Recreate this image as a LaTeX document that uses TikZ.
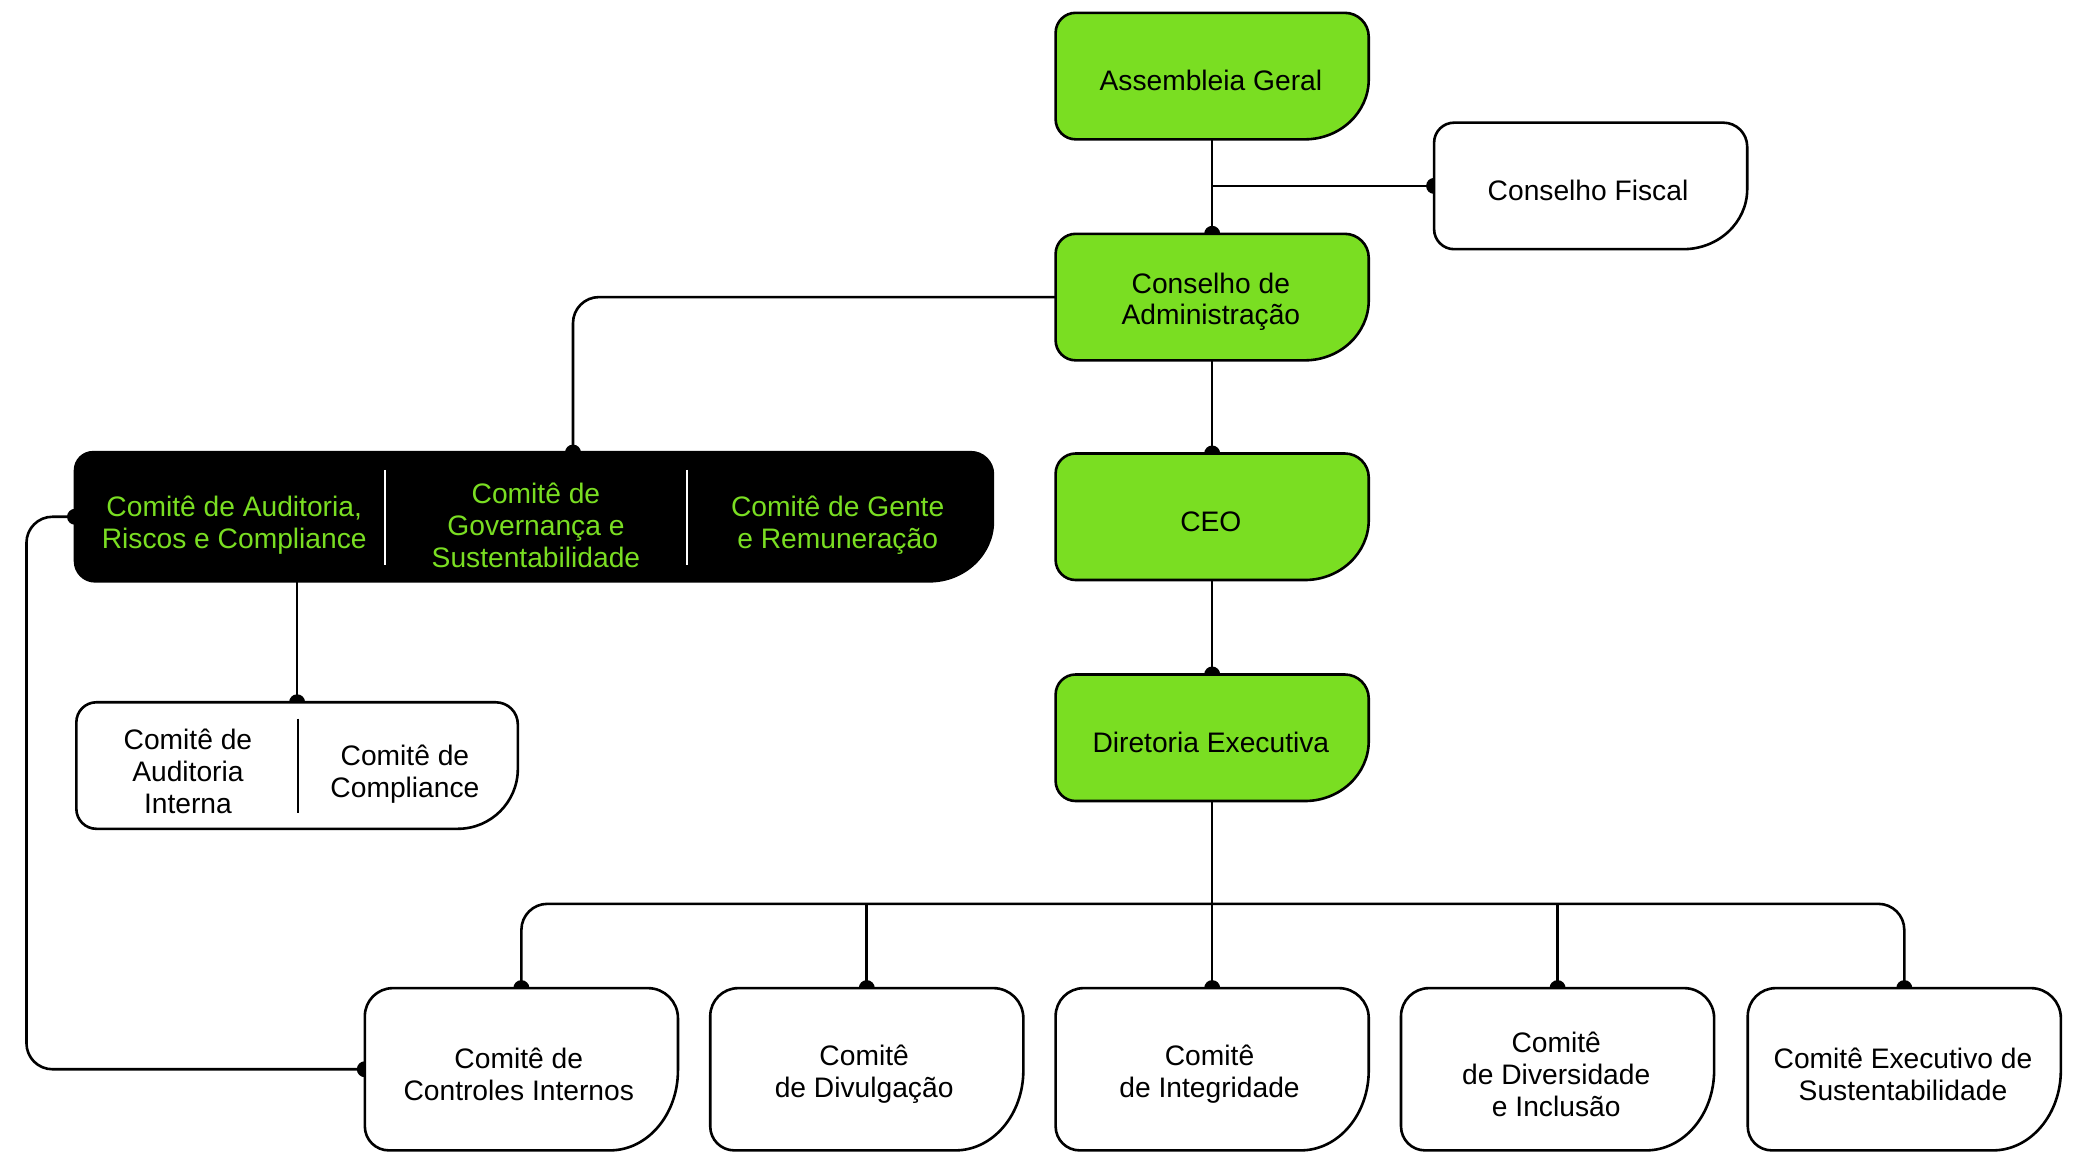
\documentclass[tikz,border=0pt]{standalone}
\usepackage{fontspec}
\setmainfont{Liberation Sans}
\usetikzlibrary{calc}
\pgfdeclarelayer{lines}
\pgfdeclarelayer{shapes}
\pgfsetlayers{lines,shapes,main}
\definecolor{lime}{RGB}{122,222,34}
\def\unitpx{0.6617pt}
\newcommand\boxshape[7]{%
  \path[#2] let \p1=(#1.north west), \p2=(#1.south east) in
  (\x1+#3,\y1) -- (\x2-#4,\y1) arc[start angle=90,end angle=0,radius=#4]
  -- (\x2,\y2+#6) arc[start angle=0,end angle=-90,x radius=#5,y radius=#6]
  -- (\x1+#7,\y2) arc[start angle=270,end angle=180,radius=#7]
  -- (\x1,\y1-#3) arc[start angle=180,end angle=90,radius=#3] -- cycle;}
\tikzset{
  txt/.style={align=center,inner sep=0pt,font=\fontsize{14.1}{15.9}\selectfont},
  unit/.style={inner sep=0pt,minimum width=236*\unitpx,minimum height=95*\unitpx},
  lowbox/.style={inner sep=0pt,minimum width=236*\unitpx,minimum height=122*\unitpx},
  gshape/.style={fill=lime,draw=black,line width=1.3pt},
  wshape/.style={fill=white,draw=black,line width=1.3pt},
  kshape/.style={fill=black,draw=black,line width=1.3pt},
  conn/.style={line width=1.3pt,rounded corners=13pt},
  dot/.style={fill=black},
}
\begin{document}
\begin{tikzpicture}[x=\unitpx,y=-\unitpx]
\useasboundingbox (0,0) rectangle (1568,872);
% box nodes
\node[unit] (ag) at (916,57.5) {};
\node[unit] (cf) at (1202,140.5) {};
\node[unit] (ca) at (916,224.5) {};
\node[unit] (ceo) at (916,390.5) {};
\node[unit] (de) at (916,557.5) {};
\node[inner sep=0pt,minimum width=693*\unitpx,minimum height=97*\unitpx] (bb) at (403.5,390.5) {};
\node[inner sep=0pt,minimum width=333*\unitpx,minimum height=95*\unitpx] (sub) at (224.5,578.5) {};
\node[lowbox] (c1) at (394,808) {};
\node[lowbox] (c2) at (655,808) {};
\node[lowbox] (c3) at (916,808) {};
\node[lowbox] (c4) at (1177,808) {};
\node[lowbox] (c5) at (1439,808) {};
% texts
\node[txt] (agt) at (915,61) {Assembleia Geral};
\node[txt] (cft) at (1200,144) {Conselho Fiscal};
\node[txt] (cat) at (915,228) {Conselho de\\Administração};
\node[txt] (ceot) at (915,394) {CEO};
\node[txt] (det) at (915,561) {Diretoria Executiva};
\node[txt,text=lime] (bb1) at (177,397) {Comitê de Auditoria,\\Riscos e Compliance};
\node[txt,text=lime] (bb2) at (405,397) {Comitê de\\Governança e\\Sustentabilidade};
\node[txt,text=lime] (bb3) at (633,397) {Comitê de Gente\\e Remuneração};
\node[txt] (sub1) at (142,583) {Comitê de\\Auditoria\\Interna};
\node[txt] (sub2) at (306,585) {Comitê de\\Compliance};
\node[txt] (c1t) at (392,812) {Comitê de\\Controles Internos};
\node[txt] (c2t) at (653,812) {Comitê\\de Divulgação};
\node[txt] (c3t) at (914,812) {Comitê\\de Integridade};
\node[txt] (c4t) at (1176,812) {Comitê\\de Diversidade\\e Inclusão};
\node[txt] (c5t) at (1438,812) {Comitê Executivo de\\Sustentabilidade};
\coordinate (bbtop) at (433,342);
\coordinate (lx) at (20,0);
\coordinate (bus) at (0,683);
% shapes
\begin{pgfonlayer}{shapes}
\boxshape{ag}{gshape}{10pt}{12pt}{32pt}{30pt}{10pt}
\boxshape{ca}{gshape}{10pt}{12pt}{32pt}{30pt}{10pt}
\boxshape{ceo}{gshape}{10pt}{12pt}{32pt}{30pt}{10pt}
\boxshape{de}{gshape}{10pt}{12pt}{32pt}{30pt}{10pt}
\boxshape{cf}{wshape}{10pt}{12pt}{32pt}{30pt}{10pt}
\boxshape{bb}{kshape}{9pt}{11pt}{32pt}{30pt}{10pt}
\boxshape{sub}{wshape}{10pt}{11pt}{30pt}{30pt}{10pt}
\boxshape{c1}{wshape}{14pt}{15pt}{34pt}{40pt}{12pt}
\boxshape{c2}{wshape}{14pt}{15pt}{34pt}{40pt}{12pt}
\boxshape{c3}{wshape}{14pt}{15pt}{34pt}{40pt}{12pt}
\boxshape{c4}{wshape}{14pt}{15pt}{34pt}{40pt}{12pt}
\boxshape{c5}{wshape}{14pt}{15pt}{34pt}{40pt}{12pt}
\draw[white,line width=1pt] (291,355) -- (291,427);
\draw[white,line width=1pt] (519,355) -- (519,427);
\draw[black,line width=1pt] (225,543) -- (225,614);
\end{pgfonlayer}
% connectors
\begin{pgfonlayer}{lines}
\draw[conn] (ag.south) -- (ca.north);
\draw[conn] (ag.south |- cf.west) -- (cf.west);
\draw[conn] (ca.west) -| (bbtop);
\draw[conn] (bb.south -| sub.north) -- (sub.north);
\draw[conn] (bb.west) -- (bb.west -| lx) -- (c1.west -| lx) -- (c1.west);
\draw[conn] (ca.south) -- (ceo.north);
\draw[conn] (ceo.south) -- (de.north);
\draw[conn] (de.south) -- (c3.north);
\draw[conn] (c1.north) -- (c1.north |- bus) -- (c5.north |- bus) -- (c5.north);
\draw[conn] (c2.north |- bus) -- (c2.north);
\draw[conn] (c4.north |- bus) -- (c4.north);
\foreach \pp in {ca.north,cf.west,bbtop,sub.north,bb.west,c1.west,ceo.north,de.north,c1.north,c2.north,c3.north,c4.north,c5.north}
  \fill[dot] (\pp) circle[radius=4pt];
\end{pgfonlayer}
\end{tikzpicture}
\end{document}
